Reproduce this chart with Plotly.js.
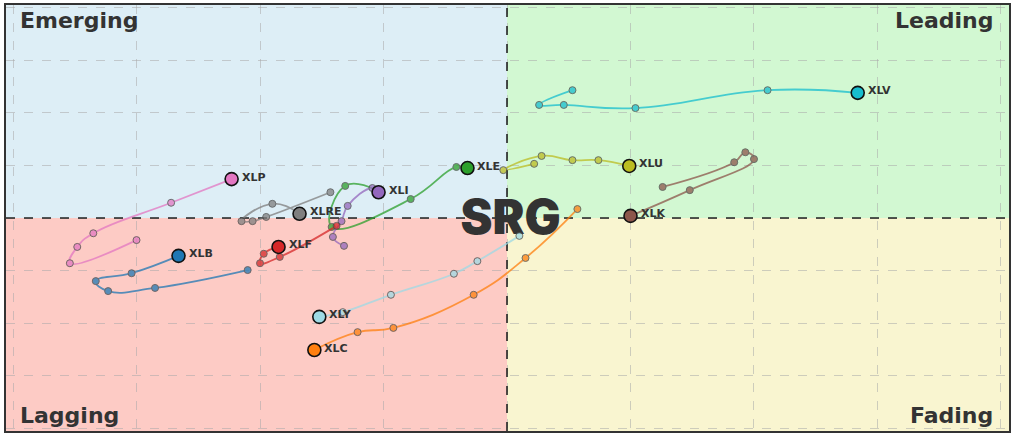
<!DOCTYPE html>
<html><head><meta charset="utf-8">
<script src="https://cdn.plot.ly/plotly-3.0.1.min.js"></script>
<style>html,body{margin:0;padding:0;background:#fff}#chart{width:1014px;height:436px}</style>
</head><body><div id="chart"></div>
<script>
// Sector tails (oldest -> newest, last point is the head)
const tickers = ["XLV","XLU","XLK","XLE","XLI","XLRE","XLP","XLB","XLF","XLY","XLC"];
const xlvX = [100.53, 100.26, 100.46, 101.04, 102.11, 102.84];
const xlvY = [102.43, 102.15, 102.15, 102.09, 102.43, 102.38];
const xluX = [100.22, 99.97, 100.28, 100.53, 100.74, 100.99];
const xluY = [101.03, 100.91, 101.18, 101.10, 101.10, 100.99];
const xlkX = [101.26, 101.84, 101.93, 102.00, 101.48, 101.00];
const xlkY = [100.59, 101.06, 101.25, 101.12, 100.53, 100.04];
const xleX = [98.94, 98.69, 98.58, 99.22, 99.59, 99.68];
const xleY = [100.53, 100.61, 99.83, 100.36, 100.97, 100.95];
const xliX = [98.68, 98.59, 98.66, 98.71, 98.91, 98.96];
const xliY = [99.47, 99.64, 99.94, 100.23, 100.57, 100.49];
const xlreX = [98.57, 98.05, 97.94, 97.85, 98.10, 98.32];
const xlreY = [100.49, 100.02, 99.94, 99.94, 100.27, 100.08];
const xlpX = [97.00, 96.46, 96.52, 96.65, 97.28, 97.77];
const xlpY = [99.58, 99.14, 99.45, 99.71, 100.29, 100.74];
const xlbX = [97.90, 97.15, 96.77, 96.67, 96.96, 97.34];
const xlbY = [99.01, 98.67, 98.61, 98.80, 98.95, 99.28];
const xlfX = [98.62, 98.16, 98.00, 98.03, 98.15];
const xlfY = [99.85, 99.26, 99.14, 99.32, 99.45];
const xlyX = [100.10, 99.76, 99.57, 99.06, 98.67, 98.48];
const xlyY = [99.66, 99.18, 98.94, 98.54, 98.21, 98.12];
const xlcX = [100.57, 100.15, 99.73, 99.08, 98.79, 98.44];
const xlcY = [100.17, 99.24, 98.54, 97.91, 97.83, 97.49];
const quadrantLabels = ["Emerging","Leading","Lagging","Fading"];
const centerLabel = "SRG";

const seriesX = [xlvX, xluX, xlkX, xleX, xliX, xlreX, xlpX, xlbX, xlfX, xlyX, xlcX];
const seriesY = [xlvY, xluY, xlkY, xleY, xliY, xlreY, xlpY, xlbY, xlfY, xlyY, xlcY];
const colors = ["#17becf","#bcbd22","#8c564b","#2ca02c","#9467bd","#7f7f7f","#e377c2","#1f77b4","#d62728","#9edae5","#ff7f0e"];

const traces = [];
// watermark drawn first so the tails pass over it
traces.push({x:[100.03], y:[99.92], mode:'text', text:[centerLabel],
  textfont:{family:'Inter, sans-serif', size:48, weight:900, color:'#333333'},
  hoverinfo:'skip', showlegend:false});

const annotations = [];
tickers.forEach((t, i) => {
  const xs = seriesX[i], ys = seriesY[i], c = colors[i];
  traces.push({x: xs, y: ys, mode:'lines+markers', showlegend:false,
    line:{color:c, width:1.8, shape:'spline', smoothing:1.3},
    opacity:0.75,
    marker:{size:7, color:c, line:{color:'#444', width:1}}});
  const n = xs.length - 1;
  traces.push({x:[xs[n]], y:[ys[n]], mode:'markers', showlegend:false,
    marker:{size:13, color:c, line:{color:'#111', width:1.6}}});
  annotations.push({x: xs[n], y: ys[n], xref:'x', yref:'y', text:'<b>'+t+'</b>',
    showarrow:false, xanchor:'left', xshift:8, yshift:2,
    font:{family:'DejaVu Sans, sans-serif', size:11, color:'#333'}});
});

const qf = {family:'DejaVu Sans, sans-serif', size:22, color:'#333'};
annotations.push({xref:'paper', yref:'paper', x:0.012, y:0.997, xanchor:'left', yanchor:'top', text:'<b>'+quadrantLabels[0]+'</b>', showarrow:false, font:qf});
annotations.push({xref:'paper', yref:'paper', x:0.986, y:0.997, xanchor:'right', yanchor:'top', text:'<b>'+quadrantLabels[1]+'</b>', showarrow:false, font:qf});
annotations.push({xref:'paper', yref:'paper', x:0.012, y:0.003, xanchor:'left', yanchor:'bottom', text:'<b>'+quadrantLabels[2]+'</b>', showarrow:false, font:qf});
annotations.push({xref:'paper', yref:'paper', x:0.986, y:0.003, xanchor:'right', yanchor:'bottom', text:'<b>'+quadrantLabels[3]+'</b>', showarrow:false, font:qf});

const X0 = 95.943, X1 = 104.065, Y0 = 95.95, Y1 = 104.05;
const shapes = [
  {type:'rect', xref:'x', yref:'y', x0:X0, x1:100, y0:100, y1:Y1, fillcolor:'#ddeef6', line:{width:0}, layer:'below'},
  {type:'rect', xref:'x', yref:'y', x0:100, x1:X1, y0:100, y1:Y1, fillcolor:'#d2f8d2', line:{width:0}, layer:'below'},
  {type:'rect', xref:'x', yref:'y', x0:X0, x1:100, y0:Y0, y1:100, fillcolor:'#fdcbc5', line:{width:0}, layer:'below'},
  {type:'rect', xref:'x', yref:'y', x0:100, x1:X1, y0:Y0, y1:100, fillcolor:'#f9f5d0', line:{width:0}, layer:'below'},
  {type:'line', xref:'x', yref:'y', x0:100, x1:100, y0:Y0, y1:Y1, line:{color:'#222', width:1.6, dash:'dash'}, layer:'between'},
  {type:'line', xref:'x', yref:'y', x0:X0, x1:X1, y0:100, y1:100, line:{color:'#222', width:1.6, dash:'dash'}, layer:'between'}
];

const axisCommon = {showticklabels:false, ticks:'', zeroline:false, showgrid:true,
  gridcolor:'rgba(170,170,170,0.55)', griddash:'dash', gridwidth:1,
  showline:true, mirror:true, linecolor:'#333', linewidth:2, dtick:1};

const layout = {
  width:1014, height:436,
  margin:{l:6, r:5, t:5, b:5},
  paper_bgcolor:'#ffffff', plot_bgcolor:'#ffffff',
  xaxis:Object.assign({range:[X0, X1], tick0:96}, axisCommon),
  yaxis:Object.assign({range:[Y0, Y1], tick0:96}, axisCommon),
  shapes, annotations, showlegend:false, hovermode:false
};
Plotly.newPlot('chart', traces, layout, {displayModeBar:false, staticPlot:true});
</script></body></html>
